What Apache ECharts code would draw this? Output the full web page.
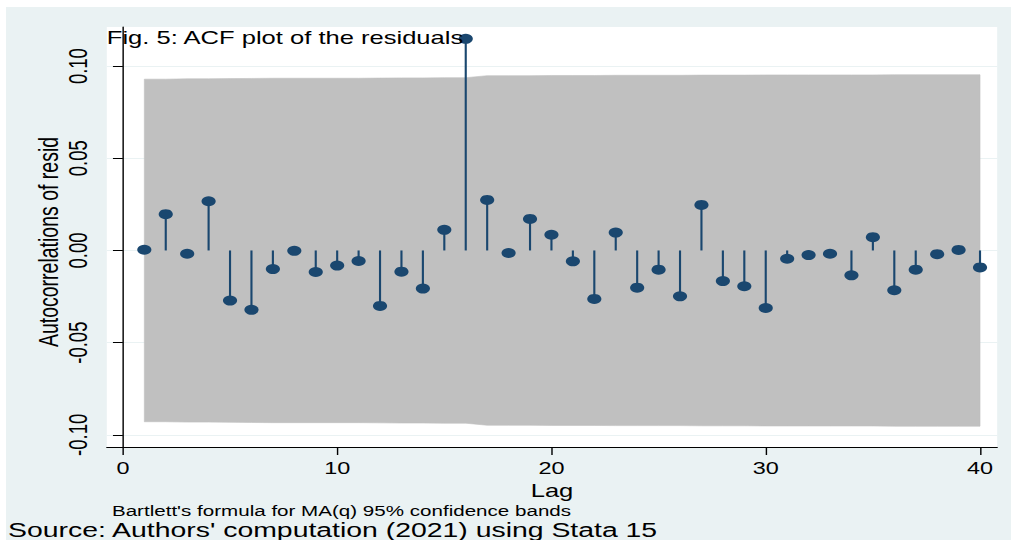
<!DOCTYPE html>
<html>
<head>
<meta charset="utf-8">
<title>ACF plot of the residuals</title>
<script src="https://cdn.jsdelivr.net/npm/echarts@6/dist/echarts.min.js"></script>
<style>
  html, body { margin: 0; padding: 0; background: #fff; }
  body { width: 1011px; height: 540px; overflow: hidden; position: relative; }
  /* the Stata export is stretched sideways, so draw narrow and widen it */
  #chart {
    position: absolute;
    left: 6px;
    top: 7px;
    width: 708px;
    height: 533px;
    background: #eaf2f3;
    transform: scaleX(1.42);
    transform-origin: 0 0;
  }
</style>
</head>
<body>
<div id="chart"></div>
<script>
const lags = [1, 2, 3, 4, 5, 6, 7, 8, 9, 10, 11, 12, 13, 14, 15, 16, 17, 18, 19, 20,
  21, 22, 23, 24, 25, 26, 27, 28, 29, 30, 31, 32, 33, 34, 35, 36, 37, 38, 39, 40]
const acf = [0.0004, 0.0197, -0.0018, 0.0267, -0.0272, -0.0322, -0.0101, -0.0002, -0.0117, -0.0082,
  -0.0057, -0.0301, -0.0115, -0.0207, 0.0112, 0.1148, 0.0274, -0.0014, 0.0171, 0.0085,
  -0.0059, -0.0263, 0.0097, -0.0202, -0.0104, -0.0249, 0.0247, -0.0166, -0.0194, -0.0312,
  -0.0045, -0.0025, -0.0018, -0.0135, 0.0072, -0.0216, -0.0104, -0.0020, 0.0003, -0.0092]
// 95% confidence band (Bartlett)
const bandUpper = [0.0929, 0.0929, 0.0931, 0.0931, 0.0932, 0.0933, 0.0934, 0.0934, 0.0934, 0.0934,
  0.0934, 0.0935, 0.0936, 0.0936, 0.0937, 0.0937, 0.0948, 0.0948, 0.0948, 0.0949,
  0.0949, 0.0949, 0.0950, 0.0950, 0.0950, 0.0950, 0.0951, 0.0951, 0.0951, 0.0952,
  0.0952, 0.0952, 0.0952, 0.0952, 0.0952, 0.0953, 0.0953, 0.0953, 0.0953, 0.0953]
const bandLower = [-0.0929, -0.0929, -0.0931, -0.0931, -0.0932, -0.0933, -0.0934, -0.0934, -0.0934, -0.0934,
  -0.0934, -0.0935, -0.0936, -0.0936, -0.0937, -0.0937, -0.0948, -0.0948, -0.0948, -0.0949,
  -0.0949, -0.0949, -0.0950, -0.0950, -0.0950, -0.0950, -0.0951, -0.0951, -0.0951, -0.0952,
  -0.0952, -0.0952, -0.0952, -0.0952, -0.0952, -0.0953, -0.0953, -0.0953, -0.0953, -0.0953]
const xTicks = [0, 10, 20, 30, 40]
const yTicks = [-0.1, -0.05, 0, 0.05, 0.1]

const font = 'Liberation Sans, Arial, sans-serif'
const navy = '#1a476f'

const chart = echarts.init(document.getElementById('chart'), null, { renderer: 'svg' })

// band as one polygon: upper edge left to right, lower edge back
function renderBand(params, api) {
  if (params.dataIndex !== 0) return
  const pts = []
  lags.forEach((l, i) => pts.push(api.coord([l, bandUpper[i]])))
  for (let i = lags.length - 1; i >= 0; i--) pts.push(api.coord([lags[i], bandLower[i]]))
  return {
    type: 'polygon',
    shape: { points: pts },
    style: { fill: '#c0c0c0', stroke: '#c0c0c0', lineWidth: 0.5 },
  }
}

const option = {
  animation: false,
  title: [
    {
      text: 'Fig. 5: ACF plot of the residuals',
      left: 71,
      top: 22,
      padding: 0,
      textStyle: { fontFamily: font, fontSize: 18, fontWeight: 'normal', color: '#000' },
    },
    {
      text: "Bartlett's formula for MA(q) 95% confidence bands",
      left: 74.6,
      top: 497,
      padding: 0,
      textStyle: { fontFamily: font, fontSize: 14.5, fontWeight: 'normal', color: '#000' },
    },
    {
      text: "Source: Authors' computation (2021) using Stata 15",
      left: 1.4,
      top: 513,
      padding: 0,
      textStyle: { fontFamily: font, fontSize: 20, fontWeight: 'normal', color: '#000' },
    },
  ],
  grid: {
    left: 71,
    right: 10,
    top: 20,
    bottom: 93,
    show: true,
    backgroundColor: '#fff',
    borderWidth: 0,
  },
  xAxis: {
    type: 'value',
    min: -0.75,
    max: 40.8,
    name: 'Lag',
    nameLocation: 'middle',
    nameGap: 29,
    nameTextStyle: { fontFamily: font, fontSize: 18, color: '#000' },
    axisLine: { onZero: false, lineStyle: { color: '#000', width: 1 } },
    axisTick: { customValues: xTicks, length: 8, lineStyle: { color: '#000' } },
    axisLabel: {
      customValues: xTicks,
      margin: 13,
      fontFamily: font,
      fontSize: 16.5,
      color: '#000',
    },
    splitLine: { show: false },
  },
  yAxis: {
    type: 'value',
    min: -0.1066,
    max: 0.1212,
    name: 'Autocorrelations of resid',
    nameLocation: 'middle',
    nameRotate: 90,
    nameGap: 31,
    nameMoveOverlap: false,
    nameTextStyle: { fontFamily: font, fontSize: 19.5, color: '#000', padding: [0, 10, 0, 0] },
    axisLine: { show: true, lineStyle: { color: '#000', width: 1 } },
    axisTick: { customValues: yTicks, length: 7, lineStyle: { color: '#000' } },
    axisLabel: {
      customValues: yTicks,
      rotate: 90,
      margin: 11,
      fontFamily: font,
      fontSize: 18.5,
      color: '#000',
      formatter: (v) => v.toFixed(2),
    },
    splitLine: { show: true, lineStyle: { color: '#eaf2f3', width: 1 } },
  },
  series: [
    {
      type: 'custom',
      renderItem: renderBand,
      data: lags.map((l, i) => [l, bandLower[i], bandUpper[i]]),
      encode: { x: 0, y: [1, 2] },
      silent: true,
      z: 1,
    },
    {
      // spikes from zero
      type: 'bar',
      data: lags.map((l, i) => [l, acf[i]]),
      barWidth: 1.5,
      itemStyle: { color: navy },
      z: 2,
    },
    {
      type: 'scatter',
      data: lags.map((l, i) => [l, acf[i]]),
      symbol: 'circle',
      symbolSize: 10,
      itemStyle: { color: navy, opacity: 1 },
      z: 3,
    },
  ],
}

chart.setOption(option)
</script>
</body>
</html>
